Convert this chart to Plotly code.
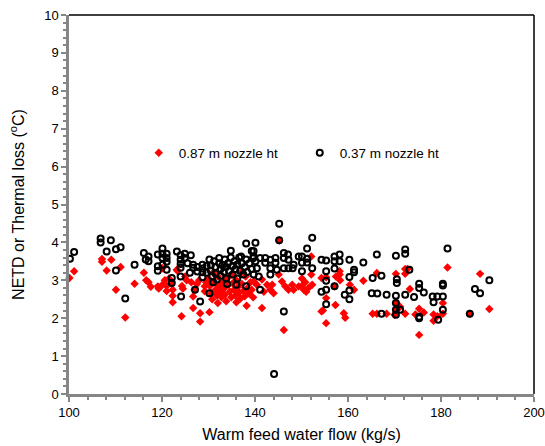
import plotly.graph_objects as go

# 0.37 m nozzle height (black open circles)
flow_037 = [
    100.2, 101.1, 106.8, 106.8, 109.0, 108.1, 110.1, 111.1, 114.1, 110.1, 112.1, 116.1, 117.1, 117.1, 119.1, 119.1, 119.1, 116.5,
    120.1, 120.1, 120.1, 120.1, 121.0, 121.0, 121.0, 121.0, 122.1, 122.1, 123.2, 124.0, 124.0, 124.0, 124.0, 124.0, 124.9, 124.9,
    126.2, 126.7, 126.7, 127.6, 127.6, 128.7, 128.7, 128.7, 128.7, 129.6, 129.6, 127.1, 124.1, 128.2, 125.5, 126.0,
    130.2, 130.5, 130.5, 130.8, 131.2, 131.5, 131.5, 131.8, 132.3, 132.3, 132.6, 132.6, 133.0, 133.3, 133.5, 133.8, 133.8, 134.2,
    134.4, 134.8, 134.8, 135.2, 135.2, 135.6, 135.8, 136.2, 136.2, 136.6, 136.8, 137.0, 137.2, 137.5, 137.8, 138.1, 138.1, 138.3,
    138.1, 138.8, 139.3, 139.3, 139.6, 130.2, 131.0, 134.0, 136.0,
    140.1, 145.2, 145.2, 141.1, 146.2, 144.1,
    139.7, 139.7, 140.1, 140.4, 139.7, 141.1, 142.2, 142.2, 143.3, 143.3, 143.3, 144.4, 144.4, 144.7, 146.2, 146.2, 146.2, 147.1,
    147.2, 147.2, 148.1, 148.3, 149.4, 140.8,
    152.3, 151.2, 150.1, 150.1, 150.1, 151.2, 151.2, 152.3, 154.3, 155.3, 155.3, 155.3, 155.3, 155.3, 157.1, 157.1, 157.1, 158.2,
    158.2, 157.1, 159.3, 154.3,
    160.3, 161.3, 161.3, 163.3, 166.2, 170.3, 172.3, 172.3, 167.2, 165.3, 170.5, 170.5, 160.3, 160.3, 160.3, 165.1, 166.3, 168.3,
    170.3, 170.3, 170.3, 170.3, 167.2, 172.3, 171.2, 181.4, 173.2, 175.3, 175.3, 176.3, 174.2, 178.2, 179.2, 180.4, 178.4, 180.4,
    180.4, 180.4, 175.3, 175.3, 179.4, 186.2, 187.3, 188.4, 190.4,
]
loss_037 = [
    3.57, 3.75, 4.10, 4.00, 4.06, 3.76, 3.82, 3.87, 3.41, 3.26, 2.52, 3.72, 3.63, 3.50, 3.68, 3.37, 3.25, 3.55,
    3.84, 3.70, 3.59, 3.41, 3.70, 3.59, 3.49, 3.28, 3.06, 2.93, 3.76, 3.66, 3.54, 3.43, 3.33, 3.10, 3.70, 3.59,
    3.66, 3.41, 3.33, 3.35, 3.23, 3.41, 3.31, 3.21, 3.08, 3.38, 3.20, 2.75, 2.57, 2.44, 3.45, 3.20,
    3.55, 3.40, 3.25, 3.10, 3.50, 3.35, 3.18, 3.02, 3.59, 3.45, 3.30, 3.12, 3.40, 3.22, 3.55, 3.35, 3.05, 3.45,
    3.25, 3.78, 3.60, 3.38, 3.15, 3.50, 3.30, 3.42, 3.05, 3.60, 3.25, 3.63, 3.45, 3.15, 3.35, 3.97, 3.55, 3.22,
    2.84, 3.45, 3.77, 3.30, 3.58, 2.66, 2.95, 2.90, 2.88,
    3.99, 4.49, 4.06, 2.75, 2.18, 0.53,
    3.77, 3.63, 3.50, 3.32, 3.15, 3.59, 3.59, 3.46, 3.54, 3.32, 3.15, 3.59, 3.46, 3.28, 3.72, 3.59, 3.32, 3.68,
    3.54, 3.32, 3.32, 3.41, 3.63, 3.10,
    4.12, 3.84, 3.63, 3.46, 3.24, 3.57, 3.47, 3.32, 3.54, 3.52, 3.24, 2.99, 2.75, 2.37, 3.63, 3.50, 3.31, 3.68,
    3.50, 2.84, 2.62, 2.70,
    3.54, 3.28, 3.21, 3.47, 3.68, 3.65, 3.81, 3.70, 3.12, 3.06, 3.03, 2.93, 3.09, 2.73, 2.50, 2.66, 2.65, 2.62,
    2.59, 2.40, 2.22, 2.09, 2.12, 2.62, 2.22, 3.84, 3.28, 2.91, 2.80, 2.68, 2.56, 2.57, 2.57, 2.57, 2.42, 2.91,
    2.86, 2.22, 2.04, 2.00, 1.96, 2.12, 2.77, 2.66, 3.00,
]

# 0.87 m nozzle height (red diamonds)
flow_087 = [
    100.1, 101.1, 107.1, 107.1, 109.1, 108.1, 110.1, 111.1, 112.1, 114.1, 116.1, 116.6, 117.1, 117.6, 119.1, 119.3, 120.1, 120.6,
    121.0, 121.0,
    120.1, 122.3, 122.3, 122.3, 123.2, 125.3, 126.3, 127.5, 124.3, 124.5, 126.7, 126.7, 124.2, 128.2, 128.2, 129.2, 129.2, 123.3,
    121.5, 122.0, 125.0, 128.0, 127.0, 129.5,
    130.2, 138.2, 130.0, 130.3, 130.6, 130.8, 131.2, 131.5, 131.8, 132.0, 132.2, 132.5, 132.8, 133.0, 133.3, 133.5, 133.8, 134.0,
    134.3, 134.6, 134.9, 135.2, 135.5, 135.8, 136.0, 136.3, 136.6, 136.9, 137.2, 137.5, 137.8, 138.0, 138.4, 138.7, 139.0, 139.3,
    139.6, 131.0, 135.0, 137.0, 132.0, 136.0,
    145.2, 141.5, 146.2, 139.7, 140.4, 141.5, 142.6, 143.3, 144.0, 143.7, 145.8, 146.5, 147.2, 148.0, 148.3, 141.9, 145.1, 149.4,
    152.1, 150.1, 150.1, 150.8, 151.5, 152.3, 151.0, 150.5, 152.1, 154.3, 155.3, 155.3, 154.3, 154.6, 155.3, 157.1, 157.3, 158.2,
    158.2, 159.1, 157.4, 158.3, 159.4,
    170.3, 166.2, 172.8, 163.3, 160.4, 161.3, 165.3, 166.2, 168.3, 170.3, 170.3, 171.2, 170.0, 172.3, 172.3, 181.4, 173.3, 175.3,
    176.3, 174.5, 172.3, 178.4, 178.4, 179.2, 180.4, 180.4, 175.3, 186.2, 188.4, 190.4,
]
loss_087 = [
    3.06, 3.24, 3.56, 3.49, 3.54, 3.26, 2.75, 3.35, 2.02, 2.91, 3.20, 3.00, 2.95, 2.83, 2.84, 2.78, 2.88, 3.00,
    2.85, 2.72,
    3.32, 2.75, 2.59, 2.42, 3.28, 3.00, 2.95, 2.90, 2.85, 2.78, 2.57, 2.27, 2.05, 2.13, 1.91, 2.84, 2.71, 3.25,
    3.05, 2.95, 3.10, 3.00, 2.75, 2.95,
    2.16, 2.33, 3.05, 2.85, 2.65, 2.50, 2.95, 2.75, 2.60, 3.10, 2.85, 2.70, 2.55, 2.95, 2.78, 2.62, 2.45, 3.05,
    2.88, 2.70, 2.55, 2.92, 2.75, 2.60, 3.00, 2.82, 2.68, 2.52, 2.90, 2.72, 2.58, 3.10, 2.80, 2.65, 2.95, 2.75,
    2.55, 3.20, 3.15, 3.20, 2.40, 2.42,
    4.05, 2.27, 1.69, 2.97, 2.88, 3.02, 2.88, 2.75, 2.66, 2.88, 2.97, 2.84, 2.75, 2.88, 2.75, 2.70, 3.15, 2.84,
    3.63, 3.05, 2.85, 2.95, 2.80, 2.88, 2.70, 2.75, 3.15, 3.06, 3.08, 2.53, 2.18, 2.20, 1.87, 2.84, 2.35, 3.24,
    3.15, 2.13, 3.10, 3.00, 2.01,
    3.17, 3.19, 3.30, 2.99, 2.88, 2.75, 2.12, 2.12, 2.12, 2.40, 2.22, 2.30, 2.09, 3.30, 3.17, 3.34, 2.77, 2.25,
    2.15, 2.10, 2.12, 2.10, 1.93, 2.05, 2.12, 2.40, 1.56, 2.12, 3.17, 2.24,
]

x_ticks = [100, 120, 140, 160, 180, 200]
y_ticks = [0, 1, 2, 3, 4, 5, 6, 7, 8, 9, 10]

FONT = "Liberation Sans, Arial, sans-serif"
AXIS_GRAY = "#868686"

fig = go.Figure()
fig.add_trace(go.Scatter(
    x=flow_087, y=loss_087, mode="markers", name="0.87 m nozzle ht",
    marker=dict(symbol="diamond", size=6.5, color="#ff0000", line=dict(width=0)),
    cliponaxis=False,
))
fig.add_trace(go.Scatter(
    x=flow_037, y=loss_037, mode="markers", name="0.37 m nozzle ht",
    marker=dict(symbol="circle-open", size=6, color="#000000", line=dict(width=2)),
    cliponaxis=False,
))

fig.update_layout(
    width=545, height=446,
    margin=dict(l=69, r=11, t=15, b=52),
    paper_bgcolor="white", plot_bgcolor="white",
    font=dict(family=FONT, size=13, color="black"),
    showlegend=True,
    legend=dict(
        orientation="h", x=0.15, xanchor="left", y=0.636, yanchor="middle",
        bgcolor="rgba(0,0,0,0)", font=dict(size=13.5),
        entrywidth=116, entrywidthmode="pixels",
    ),
    xaxis=dict(
        range=[100, 200], tickvals=x_ticks, ticktext=[str(v) for v in x_ticks],
        showgrid=False, zeroline=False, automargin=False,
        showline=True, linecolor=AXIS_GRAY, linewidth=2.5,
        ticks="outside", ticklen=5, tickwidth=1.5, tickcolor=AXIS_GRAY,
        minor=dict(dtick=4, ticks="outside", ticklen=3, tickwidth=1.5, tickcolor=AXIS_GRAY, showgrid=False),
        title=dict(text="Warm feed water flow (kg/s)", font=dict(size=16), standoff=10),
        tickfont=dict(size=13),
    ),
    yaxis=dict(
        range=[0, 10], tickvals=y_ticks, ticktext=[str(v) for v in y_ticks],
        showgrid=False, zeroline=False, automargin=False,
        showline=True, linecolor=AXIS_GRAY, linewidth=2.5,
        ticks="outside", ticklen=5, tickwidth=1.5, tickcolor=AXIS_GRAY,
        minor=dict(dtick=0.2, ticks="outside", ticklen=3, tickwidth=1.5, tickcolor=AXIS_GRAY, showgrid=False),
        title=dict(text="NETD or Thermal loss (<sup>o</sup>C)", font=dict(size=16), standoff=16),
        tickfont=dict(size=13),
    ),
    shapes=[
        dict(type="line", xref="paper", yref="paper", x0=0, x1=1, y0=1, y1=1,
             line=dict(color="black", width=1.5)),
        dict(type="line", xref="paper", yref="paper", x0=1, x1=1, y0=0, y1=1,
             line=dict(color="black", width=1.5)),
    ],
)

fig.write_html("out.html")
